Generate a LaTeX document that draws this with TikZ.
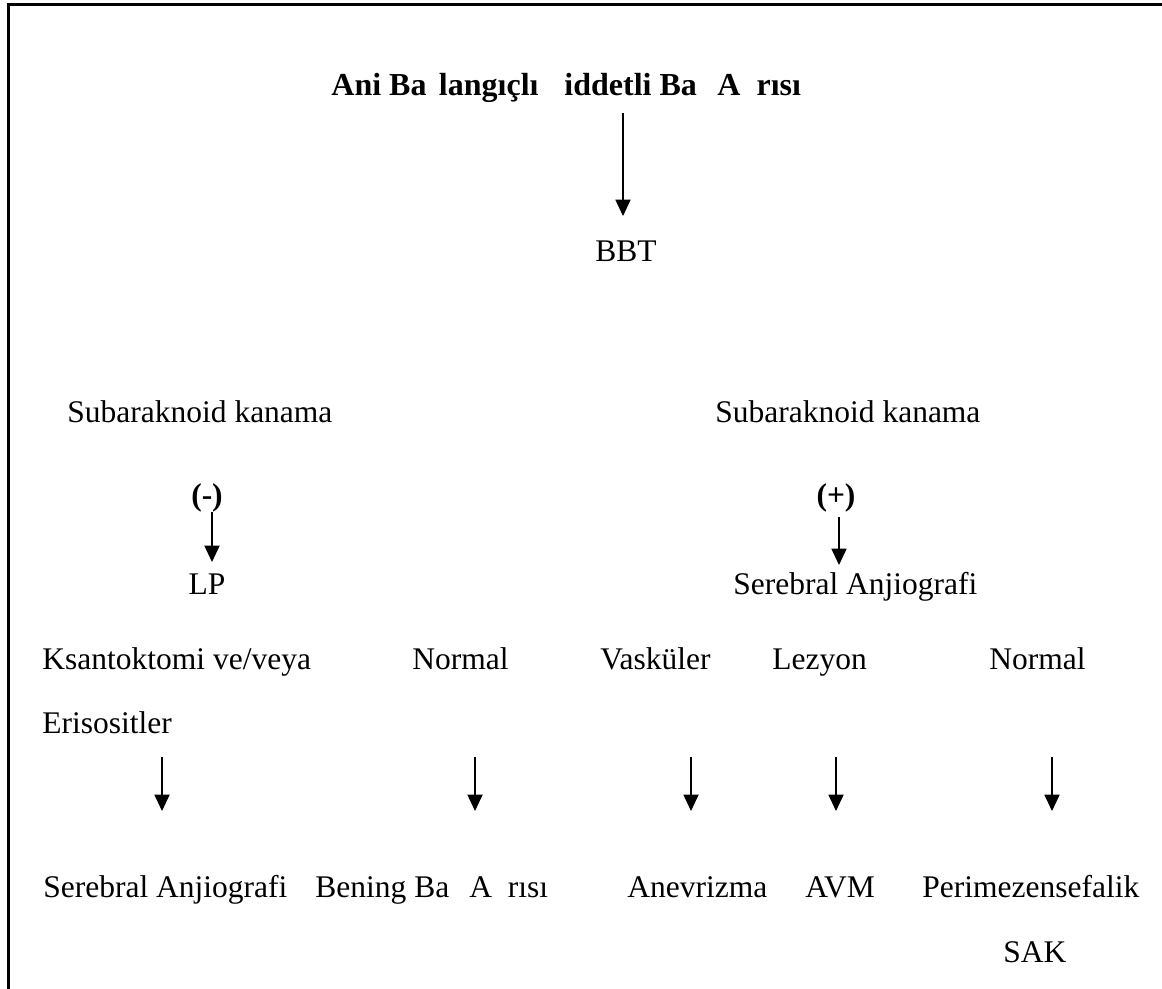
\documentclass[tikz,border=0pt]{standalone}
\usepackage{fontspec}
\setmainfont{Liberation Serif}
\usetikzlibrary{arrows.meta}
\begin{document}
\begin{tikzpicture}[x=0.5pt,y=-0.5pt,
  lbl/.style={inner sep=0pt, anchor=base west, font=\fontsize{15.75}{18}\selectfont},
  clbl/.style={lbl, anchor=base},
  blbl/.style={clbl, font=\fontsize{15.75}{18}\selectfont\bfseries},
  tlbl/.style={lbl, font=\fontsize{16}{18}\selectfont\bfseries},
  arr/.style={-{Triangle[length=8.2pt,width=7.6pt]}, line width=0.6pt},
  frame/.style={line width=1.4pt}]
\useasboundingbox (0,0) rectangle (1162,989);
\begin{scope}
  \clip (0,0) rectangle (1162,989);
  \draw[frame] (8.7,1000) -- (8.7,4.7) -- (1170,4.7);
\end{scope}

% title and BBT
\node[tlbl] (title) at (331,96)
  {Ani Ba\hspace{.39em}langıçlı \hspace{.56em}iddetli Ba\hspace{.39em} A\hspace{.5em}rısı};
\node[lbl] (bbt) at (595,262) {BBT};
\coordinate (t1) at (623,113);
\coordinate (h1) at (623,216);
\draw[arr] (t1) -- (h1);

% second level
\node[lbl] (sakL) at (67,423) {Subaraknoid kanama};
\node[lbl] (sakR) at (715,423) {Subaraknoid kanama};
\node[blbl] (neg) at (207,505) {(-)};
\node[blbl] (pos) at (836,505) {(+)};
\coordinate (t2) at (212,512);
\coordinate (h2) at (212,562);
\coordinate (t3) at (839,517);
\coordinate (h3) at (839,565);
\draw[arr] (t2) -- (h2);
\draw[arr] (t3) -- (h3);
\node[clbl] (lp) at (207,594) {LP};
\node[lbl] (angR) at (733,594) {Serebral Anjiografi};

% third level
\node[lbl] (ksa) at (42,669) {Ksantoktomi ve/veya};
\node[lbl] (norm1) at (412,669) {Normal};
\node[lbl] (vask) at (600,669) {Vasküler};
\node[lbl] (lez) at (772,669) {Lezyon};
\node[lbl] (norm2) at (989,669) {Normal};
\node[lbl] (eri) at (42,733) {Erisositler};

% bottom arrows
\foreach \n/\x in {a/162,b/475,c/691,d/836,e/1052}{
  \coordinate (t\n) at (\x,757);
  \coordinate (h\n) at (\x,811);
  \draw[arr] (t\n) -- (h\n);
}

% bottom row
\node[lbl] (angL) at (43,897) {Serebral Anjiografi};
\node[lbl] (ben) at (315,897) {Bening Ba\hspace{.39em} A\hspace{.5em}rısı};
\node[lbl] (anev) at (627,897) {Anevrizma};
\node[lbl] (avm) at (805,897) {AVM};
\node[lbl] (peri) at (922,897) {Perimezensefalik};
\node[lbl] (sak) at (1003,962) {SAK};
\end{tikzpicture}
\end{document}
